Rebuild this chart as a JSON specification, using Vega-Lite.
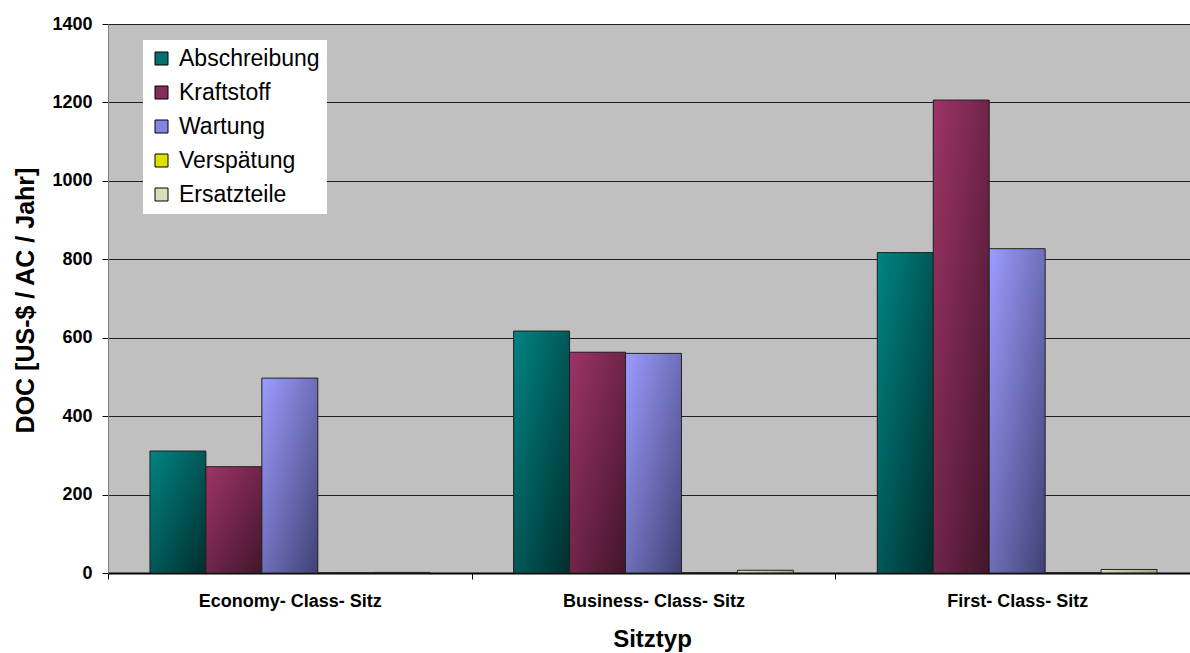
{
  "$schema": "https://vega.github.io/schema/vega-lite/v6.json",
  "width": 1082,
  "height": 549,
  "autosize": {"type": "none"},
  "padding": {"left": 108, "top": 24, "right": 0, "bottom": 80},
  "background": "white",
  "view": {"fill": "#C0C0C0", "stroke": null},
  "data": {
    "values": [
      {"Sitztyp": "Economy- Class- Sitz", "Kategorie": "Abschreibung", "DOC": 311},
      {"Sitztyp": "Economy- Class- Sitz", "Kategorie": "Kraftstoff", "DOC": 271},
      {"Sitztyp": "Economy- Class- Sitz", "Kategorie": "Wartung", "DOC": 497},
      {"Sitztyp": "Economy- Class- Sitz", "Kategorie": "Verspätung", "DOC": 1},
      {"Sitztyp": "Economy- Class- Sitz", "Kategorie": "Ersatzteile", "DOC": 1.5},
      {"Sitztyp": "Business- Class- Sitz", "Kategorie": "Abschreibung", "DOC": 617},
      {"Sitztyp": "Business- Class- Sitz", "Kategorie": "Kraftstoff", "DOC": 563},
      {"Sitztyp": "Business- Class- Sitz", "Kategorie": "Wartung", "DOC": 560},
      {"Sitztyp": "Business- Class- Sitz", "Kategorie": "Verspätung", "DOC": 1},
      {"Sitztyp": "Business- Class- Sitz", "Kategorie": "Ersatzteile", "DOC": 7},
      {"Sitztyp": "First- Class- Sitz", "Kategorie": "Abschreibung", "DOC": 817},
      {"Sitztyp": "First- Class- Sitz", "Kategorie": "Kraftstoff", "DOC": 1206},
      {"Sitztyp": "First- Class- Sitz", "Kategorie": "Wartung", "DOC": 827},
      {"Sitztyp": "First- Class- Sitz", "Kategorie": "Verspätung", "DOC": 1},
      {"Sitztyp": "First- Class- Sitz", "Kategorie": "Ersatzteile", "DOC": 9}
    ]
  },
  "encoding": {
    "x": {
      "field": "Sitztyp",
      "type": "nominal",
      "sort": ["Economy- Class- Sitz", "Business- Class- Sitz", "First- Class- Sitz"],
      "scale": {"paddingInner": 0, "paddingOuter": 0, "range": [0, 1091]},
      "axis": {
        "title": "Sitztyp",
        "titleFont": "Liberation Sans",
        "titleFontSize": 24,
        "titleFontWeight": "bold",
        "titleColor": "black",
        "titleX": 544,
        "titleY": 73,
        "titleBaseline": "alphabetic",
        "labelFont": "Liberation Sans",
        "labelFontSize": 18,
        "labelFontWeight": "bold",
        "labelColor": "black",
        "labelAngle": 0,
        "labelPadding": 13,
        "labelLimit": 400,
        "tickBand": "extent",
        "tickSize": 6,
        "tickColor": "black",
        "domainColor": "black",
        "domainWidth": 2,
        "grid": false
      }
    },
    "xOffset": {
      "field": "Kategorie",
      "type": "nominal",
      "sort": ["Abschreibung", "Kraftstoff", "Wartung", "Verspätung", "Ersatzteile"],
      "scale": {"paddingInner": 0, "paddingOuter": 0.75}
    },
    "y": {
      "field": "DOC",
      "type": "quantitative",
      "scale": {"domain": [0, 1400], "nice": false},
      "axis": {
        "title": "DOC [US-$ / AC / Jahr]",
        "titleFont": "Liberation Sans",
        "titleFontSize": 25,
        "titleFontWeight": "bold",
        "titleColor": "black",
        "titleX": -83,
        "titleY": 276,
        "titleAngle": -90,
        "titleAlign": "center",
        "titleBaseline": "middle",
        "values": [0, 200, 400, 600, 800, 1000, 1200, 1400],
        "format": "d",
        "labelFont": "Liberation Sans",
        "labelFontSize": 18,
        "labelFontWeight": "bold",
        "labelColor": "black",
        "labelPadding": 10,
        "tickSize": 6,
        "tickColor": "black",
        "domainColor": "#808080",
        "grid": true,
        "gridColor": "#202020",
        "gridWidth": 1
      }
    }
  },
  "layer": [
    {
      "mark": {"type": "bar"},
      "encoding": {
        "color": {
          "field": "Kategorie",
          "type": "nominal",
          "sort": ["Abschreibung", "Kraftstoff", "Wartung", "Verspätung", "Ersatzteile"],
          "scale": {
            "domain": ["Abschreibung", "Kraftstoff", "Wartung", "Verspätung", "Ersatzteile"],
            "range": ["#007070", "#852c58", "#8585e0", "#e0e000", "#dcdcb8"]
          },
          "legend": {
            "title": null,
            "orient": "none",
            "legendX": 35,
            "legendY": 16,
            "fillColor": "white",
            "padding": 7,
            "labelFont": "Liberation Sans",
            "labelFontSize": 23,
            "labelColor": "black",
            "labelOffset": 6,
            "symbolType": "square",
            "symbolSize": 169,
            "symbolStrokeColor": "black",
            "symbolStrokeWidth": 1,
            "symbolOpacity": 1,
            "rowPadding": 10,
            "labelLimit": 300
          }
        }
      }
    },
    {
      "mark": {"type": "bar", "stroke": "#222222", "strokeWidth": 1},
      "encoding": {
        "fill": {
          "condition": [
            {"test": "datum.Kategorie === 'Abschreibung'", "value": {"gradient": "linear", "x1": 0, "y1": 0, "x2": 1, "y2": 1, "stops": [{"offset": 0, "color": "#008482"}, {"offset": 1, "color": "#002e2e"}]}},
            {"test": "datum.Kategorie === 'Kraftstoff'", "value": {"gradient": "linear", "x1": 0, "y1": 0, "x2": 1, "y2": 1, "stops": [{"offset": 0, "color": "#9e3468"}, {"offset": 1, "color": "#42152b"}]}},
            {"test": "datum.Kategorie === 'Wartung'", "value": {"gradient": "linear", "x1": 0, "y1": 0, "x2": 1, "y2": 1, "stops": [{"offset": 0, "color": "#9c9cff"}, {"offset": 1, "color": "#414175"}]}},
            {"test": "datum.Kategorie === 'Verspätung'", "value": {"gradient": "linear", "x1": 0, "y1": 0, "x2": 1, "y2": 1, "stops": [{"offset": 0, "color": "#ffff00"}, {"offset": 1, "color": "#707000"}]}}
          ],
          "value": {"gradient": "linear", "x1": 0, "y1": 0, "x2": 1, "y2": 1, "stops": [{"offset": 0, "color": "#f2f2cc"}, {"offset": 1, "color": "#8a8a66"}]}
        }
      }
    }
  ]
}
